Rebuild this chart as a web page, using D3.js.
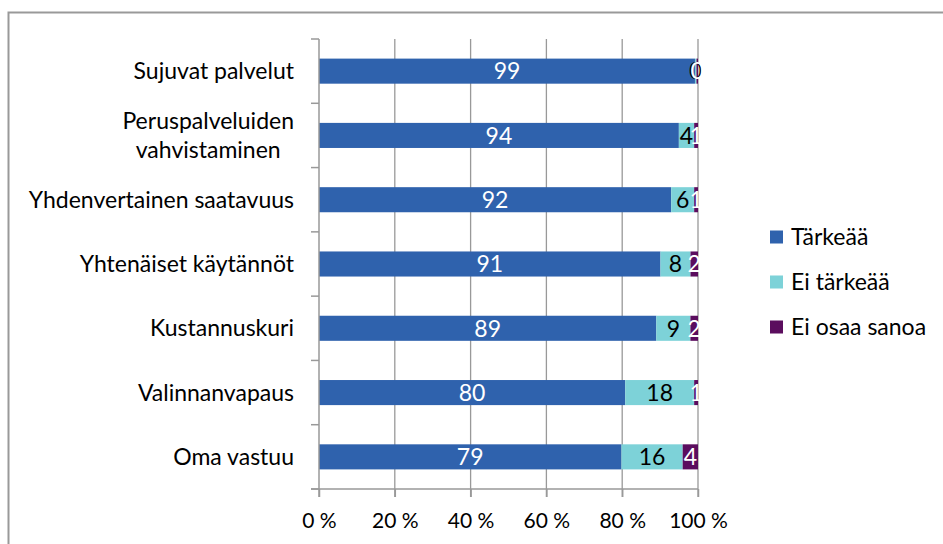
<!DOCTYPE html>
<html>
<head>
<meta charset="utf-8">
<script src="https://cdn.jsdelivr.net/npm/d3@7"></script>
<style>
  body { margin: 0; background: #fff; }
  svg text { font-family: Lato, "Open Sans", sans-serif; }
</style>
</head>
<body>
<div id="chart"></div>
<script>
// data
const categories = ["Sujuvat palvelut", "Peruspalveluiden\nvahvistaminen", "Yhdenvertainen saatavuus",
  "Yhtenäiset käytännöt", "Kustannuskuri", "Valinnanvapaus", "Oma vastuu"];
const tarkeaa = [99.2, 94, 92, 91, 89, 80, 79];
const eiTarkeaa = [0.4, 4, 6, 8, 9, 18, 16];
const eiOsaa = [0.4, 1, 1, 2, 2, 1, 4];
const seriesNames = ["Tärkeää", "Ei tärkeää", "Ei osaa sanoa"];
const colors = ["#2F62AD", "#7DD2D8", "#5B0D5E"];
const labelColors = ["#fff", "#000", "#fff"];
const ticks = [0, 0.2, 0.4, 0.6, 0.8, 1];

const W = 943, H = 544;
const margin = { top: 39, left: 319, right: 245, bottom: 55 };
const width = W - margin.left - margin.right;
const height = H - margin.top - margin.bottom;

const svg = d3.select("#chart").append("svg")
  .attr("width", W).attr("height", H);

// outer chart border (cut off on the right and bottom)
svg.append("rect")
  .attr("x", 8.5).attr("y", 12.5)
  .attr("width", 960).attr("height", 560)
  .attr("fill", "none").attr("stroke", "#999").attr("stroke-width", 2);

const g = svg.append("g").attr("transform", `translate(${margin.left},${margin.top})`);

// build stacked rows (100 % stacked)
const rows = categories.map((c, i) => {
  const vals = [tarkeaa[i], eiTarkeaa[i], eiOsaa[i]];
  const total = d3.sum(vals);
  let acc = 0;
  return vals.map((v, k) => {
    const seg = { cat: c, k, v, x0: acc / total, x1: (acc + v) / total };
    acc += v;
    return seg;
  });
});

const x = d3.scaleLinear().domain([0, 1]).range([0, width]);
const y = d3.scaleBand().domain(categories).range([0, height]).paddingInner(0.61).paddingOuter(0.305);
const yEdges = d3.scaleLinear().domain([0, categories.length]).range([0, height]);

// vertical gridlines
g.selectAll(".grid").data(ticks.slice(1)).enter().append("line")
  .attr("x1", d => x(d)).attr("x2", d => x(d))
  .attr("y1", 0).attr("y2", height + 8)
  .attr("stroke", "#999").attr("stroke-width", 1.3);

// bars
const rowG = g.selectAll(".row").data(rows).enter().append("g");
rowG.selectAll("rect").data(d => d).enter().append("rect")
  .attr("x", d => x(d.x0))
  .attr("y", d => y(d.cat))
  .attr("width", d => x(d.x1) - x(d.x0))
  .attr("height", y.bandwidth())
  .attr("fill", d => colors[d.k]);

rowG.selectAll("text").data(d => d).enter().append("text")
  .attr("x", d => (x(d.x0) + x(d.x1)) / 2)
  .attr("y", d => y(d.cat) + y.bandwidth() / 2)
  .attr("dy", "0.36em")
  .attr("text-anchor", "middle")
  .style("font-size", "23px")
  .attr("fill", d => labelColors[d.k])
  .text(d => d3.format(".0f")(d.v));

// y axis line and ticks
g.append("line").attr("x1", 0).attr("x2", 0).attr("y1", 0).attr("y2", height + 8)
  .attr("stroke", "#999").attr("stroke-width", 1.5);
g.selectAll(".ytick").data(d3.range(categories.length + 1)).enter().append("line")
  .attr("x1", -8).attr("x2", 0)
  .attr("y1", d => yEdges(d)).attr("y2", d => yEdges(d))
  .attr("stroke", "#999").attr("stroke-width", 1.5);

// x axis
const xAxis = g.append("g").attr("transform", `translate(0,${height})`)
  .call(d3.axisBottom(x).tickValues(ticks).tickSize(8).tickPadding(16)
    .tickFormat(d => `${Math.round(d * 100)} %`));
xAxis.select(".domain").attr("d", `M-8,0H${width}`).attr("stroke", "#999").attr("stroke-width", 1.5);
xAxis.selectAll(".tick line").attr("stroke", "#999").attr("stroke-width", 1.5);
xAxis.selectAll(".tick text").style("font-size", "21px").attr("fill", "#000")
  .style("font-family", "Lato, 'Open Sans', sans-serif");

// category labels
const catG = g.selectAll(".cat").data(categories).enter().append("text")
  .attr("y", d => y(d) + y.bandwidth() / 2)
  .style("font-size", "23px").attr("fill", "#000");
catG.each(function(d) {
  const t = d3.select(this);
  const lines = d.split("\n");
  const lh = 29;
  lines.forEach((ln, i) => {
    t.append("tspan").attr("x", 0)
      .attr("y", y(d) + y.bandwidth() / 2 + (i - (lines.length - 1) / 2) * lh)
      .attr("dy", "0.35em")
      .text(ln);
  });
  const maxW = d3.max(t.selectAll("tspan").nodes(), n => n.getComputedTextLength());
  t.attr("text-anchor", "middle");
  t.selectAll("tspan").attr("x", -25 - maxW / 2);
});

// legend
const legend = svg.append("g").attr("transform", "translate(770,237)");
const li = legend.selectAll("g").data(seriesNames).enter().append("g")
  .attr("transform", (d, i) => `translate(0,${i * 45})`);
li.append("rect").attr("x", 0).attr("y", -6.5).attr("width", 13).attr("height", 13)
  .attr("fill", (d, i) => colors[i]);
li.append("text").attr("x", 21).attr("dy", "0.36em")
  .style("font-size", "23px").attr("fill", "#000").text(d => d);
</script>
</body>
</html>
